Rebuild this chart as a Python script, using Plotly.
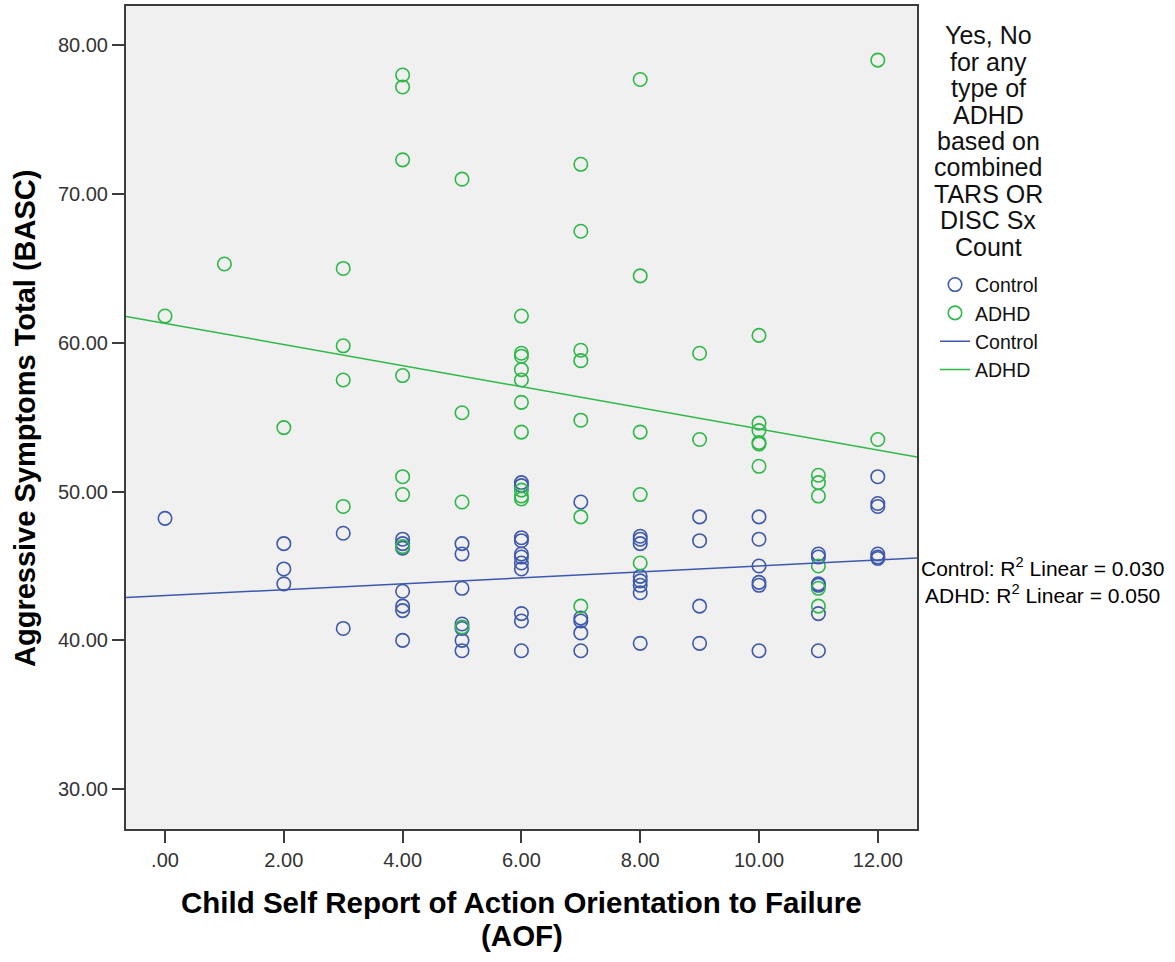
import plotly.graph_objects as go

# ---------------- data ----------------
control_x = [0,
             2, 2, 2,
             3, 3,
             4, 4, 4, 4, 4, 4, 4,
             5, 5, 5, 5, 5, 5, 5,
             6, 6, 6, 6, 6, 6, 6, 6, 6, 6, 6,
             7, 7, 7, 7, 7,
             8, 8, 8, 8, 8, 8, 8, 8,
             9, 9, 9, 9,
             10, 10, 10, 10, 10, 10,
             11, 11, 11, 11, 11, 11,
             12, 12, 12, 12, 12, 12]
control_y = [48.2,
             46.5, 44.8, 43.8,
             47.2, 40.8,
             46.8, 46.5, 46.2, 43.3, 42.3, 42.0, 40.0,
             46.5, 45.8, 43.5, 41.1, 40.8, 40.0, 39.3,
             50.6, 50.4, 46.9, 46.7, 45.8, 45.6, 45.2, 44.8, 41.8, 41.3, 39.3,
             49.3, 41.5, 41.3, 40.5, 39.3,
             47.0, 46.8, 46.5, 44.3, 44.0, 43.7, 43.2, 39.8,
             48.3, 46.7, 42.3, 39.8,
             48.3, 46.8, 45.0, 43.9, 43.7, 39.3,
             45.8, 45.6, 43.8, 43.7, 41.8, 39.3,
             51.0, 49.2, 49.0, 45.8, 45.6, 45.5]

adhd_x = [0,
          1,
          2,
          3, 3, 3, 3,
          4, 4, 4, 4, 4, 4, 4,
          5, 5, 5, 5,
          6, 6, 6, 6, 6, 6, 6, 6, 6, 6,
          7, 7, 7, 7, 7, 7, 7,
          8, 8, 8, 8, 8,
          9, 9,
          10, 10, 10, 10, 10, 10,
          11, 11, 11, 11, 11, 11,
          12, 12]
adhd_y = [61.8,
          65.3,
          54.3,
          65.0, 59.8, 57.5, 49.0,
          78.0, 77.2, 72.3, 57.8, 51.0, 49.8, 46.3,
          71.0, 55.3, 49.3, 40.9,
          61.8, 59.3, 59.1, 58.2, 57.5, 56.0, 54.0, 50.1, 49.7, 49.5,
          72.0, 67.5, 59.5, 58.8, 54.8, 48.3, 42.3,
          77.7, 64.5, 54.0, 49.8, 45.2,
          59.3, 53.5,
          60.5, 54.6, 54.1, 53.3, 53.2, 51.7,
          51.1, 50.6, 49.7, 45.0, 43.5, 42.3,
          79.0, 53.5]

# linear fit lines (intercept, slope)
control_fit = [43.01, 0.199]
adhd_fit = [61.31, -0.710]
r2_values = {"Control": "0.030", "ADHD": "0.050"}

x_range = [-0.657, 12.66]
y_range = [27.32, 82.64]
x_ticks = [0, 2, 4, 6, 8, 10, 12]
x_ticklabels = [".00", "2.00", "4.00", "6.00", "8.00", "10.00", "12.00"]
y_ticks = [30, 40, 50, 60, 70, 80]
y_ticklabels = ["30.00", "40.00", "50.00", "60.00", "70.00", "80.00"]

legend_title_lines = ["Yes, No", "for any", "type of", "ADHD", "based on",
                      "combined", "TARS OR", "DISC Sx", "Count"]
x_title_lines = ["Child Self Report of Action Orientation to Failure", "(AOF)"]
y_title = "Aggressive Symptoms Total (BASC)"

# ---------------- style ----------------
BLUE = "#3E58AC"
GREEN = "#2EB848"
FONT = "Liberation Sans, Arial, sans-serif"
W, H = 1175, 962
L, R, T, B = 126, 917, 4, 829   # plot area in pixels


def px(xp):
    return (xp - L) / (R - L)


def py(yp):
    return (B - yp) / (B - T)


fig = go.Figure()

fig.add_trace(go.Scatter(
    x=control_x, y=control_y, mode="markers", name="Control",
    marker=dict(symbol="circle-open", size=13.5, color=BLUE, line=dict(width=1.6)),
))
fig.add_trace(go.Scatter(
    x=adhd_x, y=adhd_y, mode="markers", name="ADHD",
    marker=dict(symbol="circle-open", size=13.5, color=GREEN, line=dict(width=1.6)),
))

line_x = list(x_range)
fig.add_trace(go.Scatter(
    x=line_x, y=[control_fit[0] + control_fit[1] * v for v in line_x],
    mode="lines", name="Control", line=dict(color=BLUE, width=1.5),
))
fig.add_trace(go.Scatter(
    x=line_x, y=[adhd_fit[0] + adhd_fit[1] * v for v in line_x],
    mode="lines", name="ADHD", line=dict(color=GREEN, width=1.5),
))

annotations = []
# y axis title
annotations.append(dict(
    text=f"<b>{y_title}</b>", xref="paper", yref="paper",
    x=px(25), y=py(418), textangle=-90, showarrow=False,
    font=dict(family=FONT, size=29, color="#000000"),
    xanchor="center", yanchor="middle",
))
# x axis title lines
for i, t in enumerate(x_title_lines):
    annotations.append(dict(
        text=f"<b>{t}</b>", xref="paper", yref="paper",
        x=px(521.5), y=py(903 + 33 * i), showarrow=False,
        font=dict(family=FONT, size=29.5, color="#000000"),
        xanchor="center", yanchor="middle",
    ))
# legend title lines
for i, t in enumerate(legend_title_lines):
    annotations.append(dict(
        text=t, xref="paper", yref="paper",
        x=px(988), y=py(33.3 + 26.5 * i), showarrow=False,
        font=dict(family=FONT, size=25, color="#111111"),
        xanchor="center", yanchor="middle",
    ))
# R^2 annotation
annotations.append(dict(
    text=(f"Control: R<sup>2</sup> Linear = {r2_values['Control']}<br>"
          f"ADHD: R<sup>2</sup> Linear = {r2_values['ADHD']}"),
    xref="paper", yref="paper", x=px(1042), y=py(580), showarrow=False,
    font=dict(family=FONT, size=21, color="#000000"),
    xanchor="center", yanchor="middle", align="center",
))

fig.update_layout(
    width=W, height=H,
    margin=dict(l=L, r=W - R, t=T, b=H - B, pad=0),
    paper_bgcolor="white",
    plot_bgcolor="#F0F0F0",
    font=dict(family=FONT, size=20, color="#333333"),
    showlegend=True,
    legend=dict(
        x=px(935), y=py(264), xanchor="left", yanchor="top",
        bgcolor="rgba(0,0,0,0)", borderwidth=0,
        font=dict(family=FONT, size=19.5, color="#111111"),
        itemwidth=30, tracegroupgap=0,
    ),
    annotations=annotations,
)

fig.update_xaxes(
    range=x_range, tickmode="array", tickvals=x_ticks, ticktext=x_ticklabels,
    showgrid=False, zeroline=False,
    showline=True, mirror=True, linecolor="#3C3C3C", linewidth=2,
    ticks="outside", ticklen=12, tickwidth=2, tickcolor="#3C3C3C",
    tickfont=dict(family=FONT, size=20, color="#333333"),
)
fig.update_yaxes(
    range=y_range, tickmode="array", tickvals=y_ticks, ticktext=y_ticklabels,
    showgrid=False, zeroline=False,
    showline=True, mirror=True, linecolor="#3C3C3C", linewidth=2,
    ticks="outside", ticklen=12, tickwidth=2, tickcolor="#3C3C3C",
    tickfont=dict(family=FONT, size=20, color="#333333"),
)

fig.write_html("out.html",
               config={"displayModeBar": False},
               post_script="document.body.style.margin='0';document.body.style.overflow='hidden';")
